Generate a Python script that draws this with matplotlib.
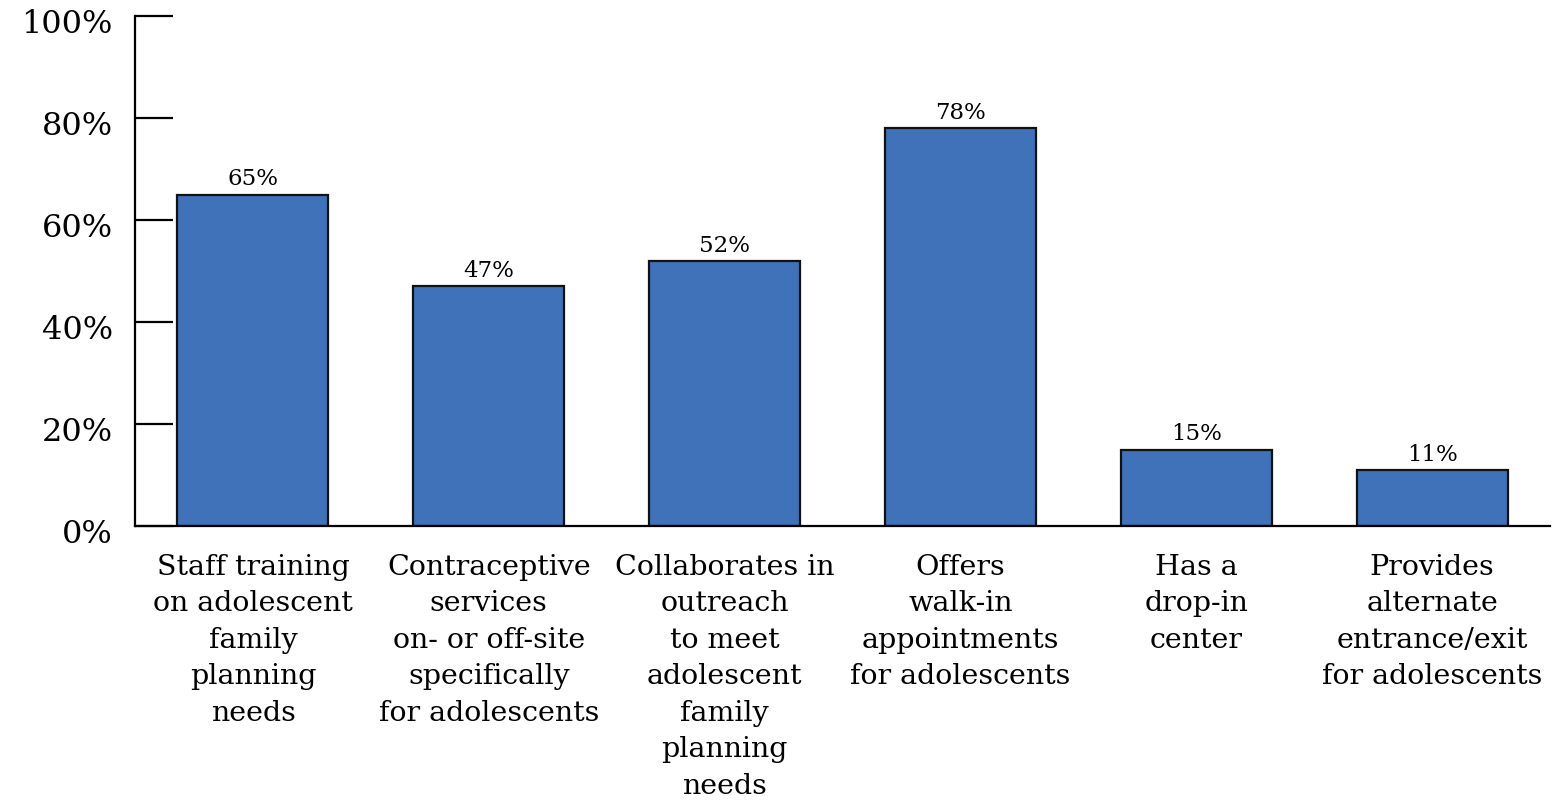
import matplotlib
matplotlib.use('Agg')
import matplotlib.pyplot as plt
import matplotlib.transforms as mtransforms

# data
categories = [
    "Staff training\non adolescent\nfamily\nplanning\nneeds",
    "Contraceptive\nservices\non- or off-site\nspecifically\nfor adolescents",
    "Collaborates in\noutreach\nto meet\nadolescent\nfamily\nplanning\nneeds",
    "Offers\nwalk-in\nappointments\nfor adolescents",
    "Has a\ndrop-in\ncenter",
    "Provides\nalternate\nentrance/exit\nfor adolescents",
]
values = [65, 47, 52, 78, 15, 11]
yticks = [0, 20, 40, 60, 80, 100]
ytick_labels = ["0%", "20%", "40%", "60%", "80%", "100%"]

plt.rcParams['font.family'] = ['DejaVu Serif']

fig = plt.figure(figsize=(15.63, 8.02), dpi=100)
ax = fig.add_axes([0.0864, 0.3441, 0.9053, 0.6359])

x = list(range(len(values)))
bars = ax.bar(x, values, width=0.64, color='#3F72B8', edgecolor='#111111', linewidth=1.6)

for xi, v in zip(x, values):
    ax.text(xi, v + 0.8, "{}%".format(v), ha='center', va='bottom', fontsize=16.5)

ax.set_xlim(-0.5, 5.5)
ax.set_ylim(0, 100)
ax.set_yticks(yticks)
ax.set_yticklabels(ytick_labels, fontsize=23)
ax.set_xticks(x)
ax.set_xticklabels(categories, fontsize=20.5, linespacing=1.45)

ax.spines['top'].set_visible(False)
ax.spines['right'].set_visible(False)
ax.spines['left'].set_linewidth(1.6)
ax.spines['bottom'].set_linewidth(1.6)
ax.tick_params(axis='y', direction='in', length=27, width=1.6, pad=16)
ax.tick_params(axis='x', length=0, pad=20)

# nudge y tick labels down a little
shift = mtransforms.ScaledTranslation(0, -5 / 100, fig.dpi_scale_trans)
for lbl in ax.get_yticklabels():
    lbl.set_transform(lbl.get_transform() + shift)

fig.savefig("out.png", dpi=100)
